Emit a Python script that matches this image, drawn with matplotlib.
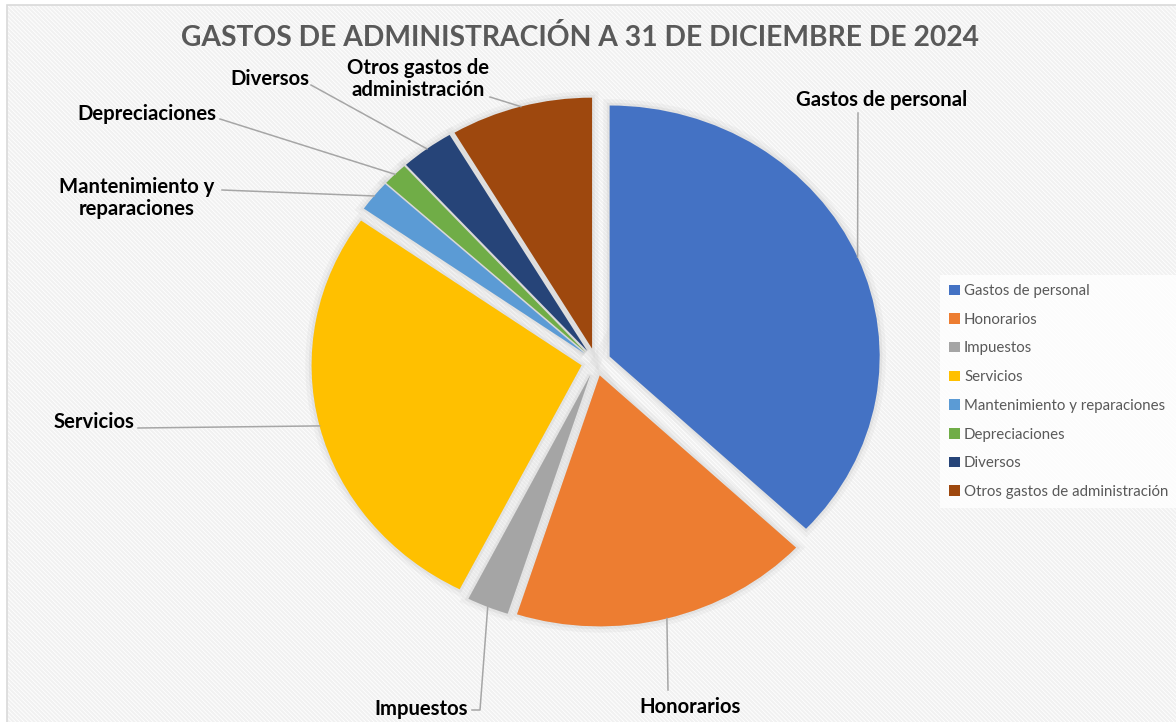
import numpy as np
import matplotlib
matplotlib.use("Agg")
import matplotlib.pyplot as plt
from matplotlib.patches import Rectangle, Patch

# data (share of total)
categorias = ["Gastos de personal", "Honorarios", "Impuestos", "Servicios",
              "Mantenimiento y reparaciones", "Depreciaciones", "Diversos",
              "Otros gastos de administración"]
valores = [37.0, 17.9, 2.5, 27.3, 2.0, 1.5, 3.2, 8.5]
colores = ["#4472c4", "#ed7d31", "#a5a5a5", "#ffc000",
           "#5b9bd5", "#70ad47", "#264478", "#9e480e"]
etiquetas = ["Gastos de personal", "Honorarios", "Impuestos", "Servicios",
             "Mantenimiento y\nreparaciones", "Depreciaciones", "Diversos",
             "Otros gastos de\nadministración"]
titulo = "GASTOS DE ADMINISTRACIÓN A 31 DE DICIEMBRE DE 2024"

W, H = 1176, 722
CX, CY = 596, 362      # pie centre in pixels (from top-left)
RX, RY = 270, 251      # the original is stretched horizontally a bit

# label placement (pixels): text centre, leader start, optional knee
label_pos = [(882, 100), (690, 707), (421, 709), (94, 422),
             (137, 198), (147, 114), (270, 79), (418, 79)]
leader_start = [(858, 113), (668, 690), (472, 710), (138, 428),
                (222, 190), (220, 119), (311, 85), (490, 97)]
leader_knee = [None, None, (480, 710), None, None, None, None, None]

plt.rcParams['font.family'] = ['Lato', 'DejaVu Sans']
plt.rcParams['hatch.linewidth'] = 1.5


def px(p):
    return ((p[0] - CX) / RX, (CY - p[1]) / RY)


fig = plt.figure(figsize=(W / 100, H / 100), dpi=100)
fig.patch.set_facecolor('white')

# striped chart area with thin border (open to the right and bottom)
fig.patches.append(Rectangle((7 / W, -0.1), 1.2, 1.1 - 5 / H, transform=fig.transFigure,
                             facecolor='white', edgecolor='#f1f1f1', lw=0,
                             hatch='\\\\\\\\\\\\\\\\', zorder=-2))
fig.patches.append(Rectangle((7 / W, -0.1), 1.2, 1.1 - 5 / H, transform=fig.transFigure,
                             facecolor='none', edgecolor='#d9d9d9', lw=1.2,
                             zorder=-1))

ax = fig.add_axes([0, 0, 1, 1])
ax.patch.set_alpha(0)

explode = [0.055] * len(valores)
# soft halo behind the slices
ax.pie(valores, explode=explode, startangle=90, counterclock=False,
       colors=['#d0d0d0'] * len(valores),
       wedgeprops=dict(edgecolor='#d0d0d0', linewidth=9, alpha=0.2))
ax.pie(valores, explode=explode, startangle=90, counterclock=False,
       colors=['#d0d0d0'] * len(valores),
       wedgeprops=dict(edgecolor='#d0d0d0', linewidth=4, alpha=0.35))
wedges, _ = ax.pie(valores, explode=explode, startangle=90, counterclock=False,
                   colors=colores, wedgeprops=dict(edgecolor='none'))

ax.set_aspect('auto')
ax.set_xlim(-CX / RX, (W - CX) / RX)
ax.set_ylim((CY - H) / RY, CY / RY)
ax.axis('off')

for w, lab, pos, st, kn in zip(wedges, etiquetas, label_pos, leader_start, leader_knee):
    th = np.deg2rad((w.theta1 + w.theta2) / 2)
    end = (w.center[0] + w.r * np.cos(th), w.center[1] + w.r * np.sin(th))
    pts = [px(st)] + ([px(kn)] if kn else []) + [end]
    xs, ys = zip(*pts)
    ax.plot(xs, ys, color='#a6a6a6', lw=1.1, zorder=1)
    tx, ty = px(pos)
    ax.text(tx, ty, lab, ha='center', va='center', fontsize=14.6,
            fontweight='bold', color='black', linespacing=1.15)

fig.text(0.493, 1 - 37 / H, titulo, ha='center', va='center', fontsize=20.3,
         fontweight='bold', color='#595959')

handles = [Patch(facecolor=c, edgecolor='none') for c in colores]
leg = fig.legend(handles, categorias, loc='upper left',
                 bbox_to_anchor=(940 / W, 1 - 275 / H), frameon=True,
                 fancybox=False, fontsize=10.8, handlelength=0.7,
                 handleheight=0.7, handletextpad=0.3, labelspacing=0.98,
                 borderpad=0.6, borderaxespad=0)
leg.get_frame().set_facecolor('white')
leg.get_frame().set_edgecolor('none')
for t in leg.get_texts():
    t.set_color('#595959')

fig.savefig('out.png', dpi=100)
